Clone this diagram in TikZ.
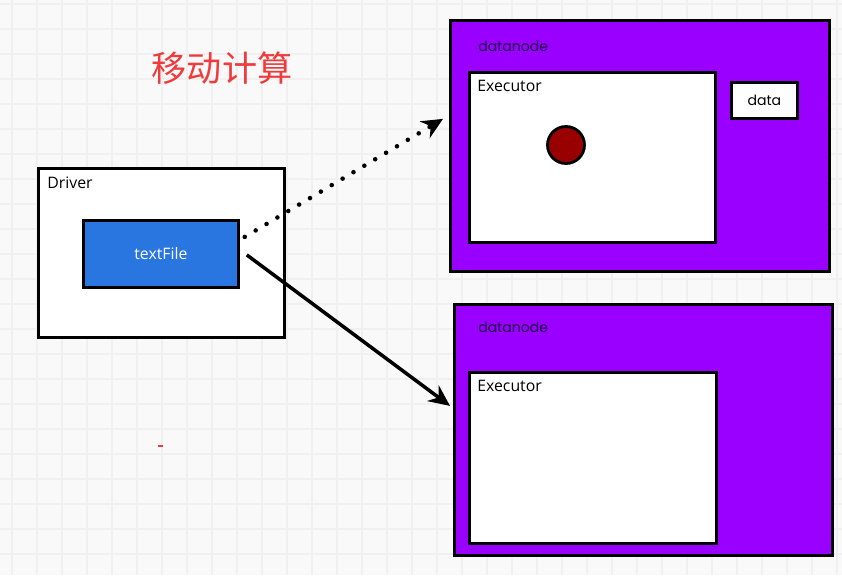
\documentclass[tikz,border=0pt]{standalone}
\usepackage{fontspec}
\setmainfont{Open Sans}
\newfontfamily\cjk{Noto Sans CJK SC}
\newfontfamily\handfont{Poppins}
\usetikzlibrary{arrows.meta}

\definecolor{paper}{HTML}{F9F9F9}
\definecolor{gridcol}{HTML}{F0F0F0}
\definecolor{fileblue}{HTML}{2A76E0}
\definecolor{nodepurple}{HTML}{9900FF}
\definecolor{nodetext}{HTML}{220044}
\definecolor{blockred}{HTML}{990000}
\definecolor{titlered}{HTML}{F03A3C}

\begin{document}
\begin{tikzpicture}[x=0.02cm, y=-0.02cm, >={Stealth[length=12pt,width=11pt]},
  box/.style={draw, line width=1.6pt, fill=white, inner sep=0pt, anchor=north west},
  datanodebox/.style={box, fill=nodepurple},
  txt/.style={anchor=west, inner sep=0pt, font=\fontsize{9}{11}\selectfont},
  dntxt/.style={anchor=west, inner sep=0pt, text=nodetext, font=\handfont\fontsize{8}{10}\selectfont}]
  \useasboundingbox (0,0) rectangle (842,575);
  \fill[paper] (0,0) rectangle (842,575);

  % background grid
  \foreach \x in {12,37,...,837}
    \draw[gridcol, line width=0.9pt] (\x,0) -- (\x,575);
  \foreach \y in {4,29,...,574}
    \draw[gridcol, line width=0.9pt] (0,\y) -- (842,\y);

  \node[text=titlered, font=\cjk\fontsize{20}{24}\selectfont] (title) at (222,68) {移动计算};

  % driver side
  \node[box, minimum width=4.92cm, minimum height=3.38cm] (driver) at (37,167) {};
  \node[txt] (drivertxt) at (47,183) {Driver};
  \node[box, fill=fileblue, minimum width=3.1cm, minimum height=1.34cm] (textfile) at (82,219) {};
  \node[text=white, font=\fontsize{9}{11}\selectfont] (filetxt) at (textfile.center) {textFile};

  % upper datanode
  \node[datanodebox, minimum width=7.58cm, minimum height=5.02cm] (dn1) at (449,19) {};
  \node[dntxt] (dn1txt) at (478,46) {datanode};
  \node[box, minimum width=4.92cm, minimum height=3.4cm] (exe1) at (468,71) {};
  \node[txt] (exe1txt) at (477,86) {Executor};
  \node[box, minimum width=1.32cm, minimum height=0.72cm,
        font=\handfont\fontsize{8}{10}\selectfont] (data) at (730,81) {data};
  \node[draw, circle, line width=1.6pt, fill=blockred, minimum size=0.74cm] (task) at (566,145) {};

  % lower datanode
  \node[datanodebox, minimum width=7.56cm, minimum height=5.02cm] (dn2) at (453,303) {};
  \node[dntxt] (dn2txt) at (478,327) {datanode};
  \node[box, minimum width=4.94cm, minimum height=3.42cm] (exe2) at (468,371) {};
  \node[txt] (exe2txt) at (477,386) {Executor};

  % arrows
  \draw[->, line width=2.6pt, line cap=round, dash pattern=on 0pt off 7.2pt]
    ([shift={(5,-17)}]textfile.east) -- ([shift={(-6,-27)}]dn1.west);
  \draw[->, line width=2pt] ([shift={(7,1)}]textfile.east) -- ([shift={(-3,-24)}]dn2.west);

  \fill[titlered] (158,445) rectangle (163,447);
\end{tikzpicture}
\end{document}
